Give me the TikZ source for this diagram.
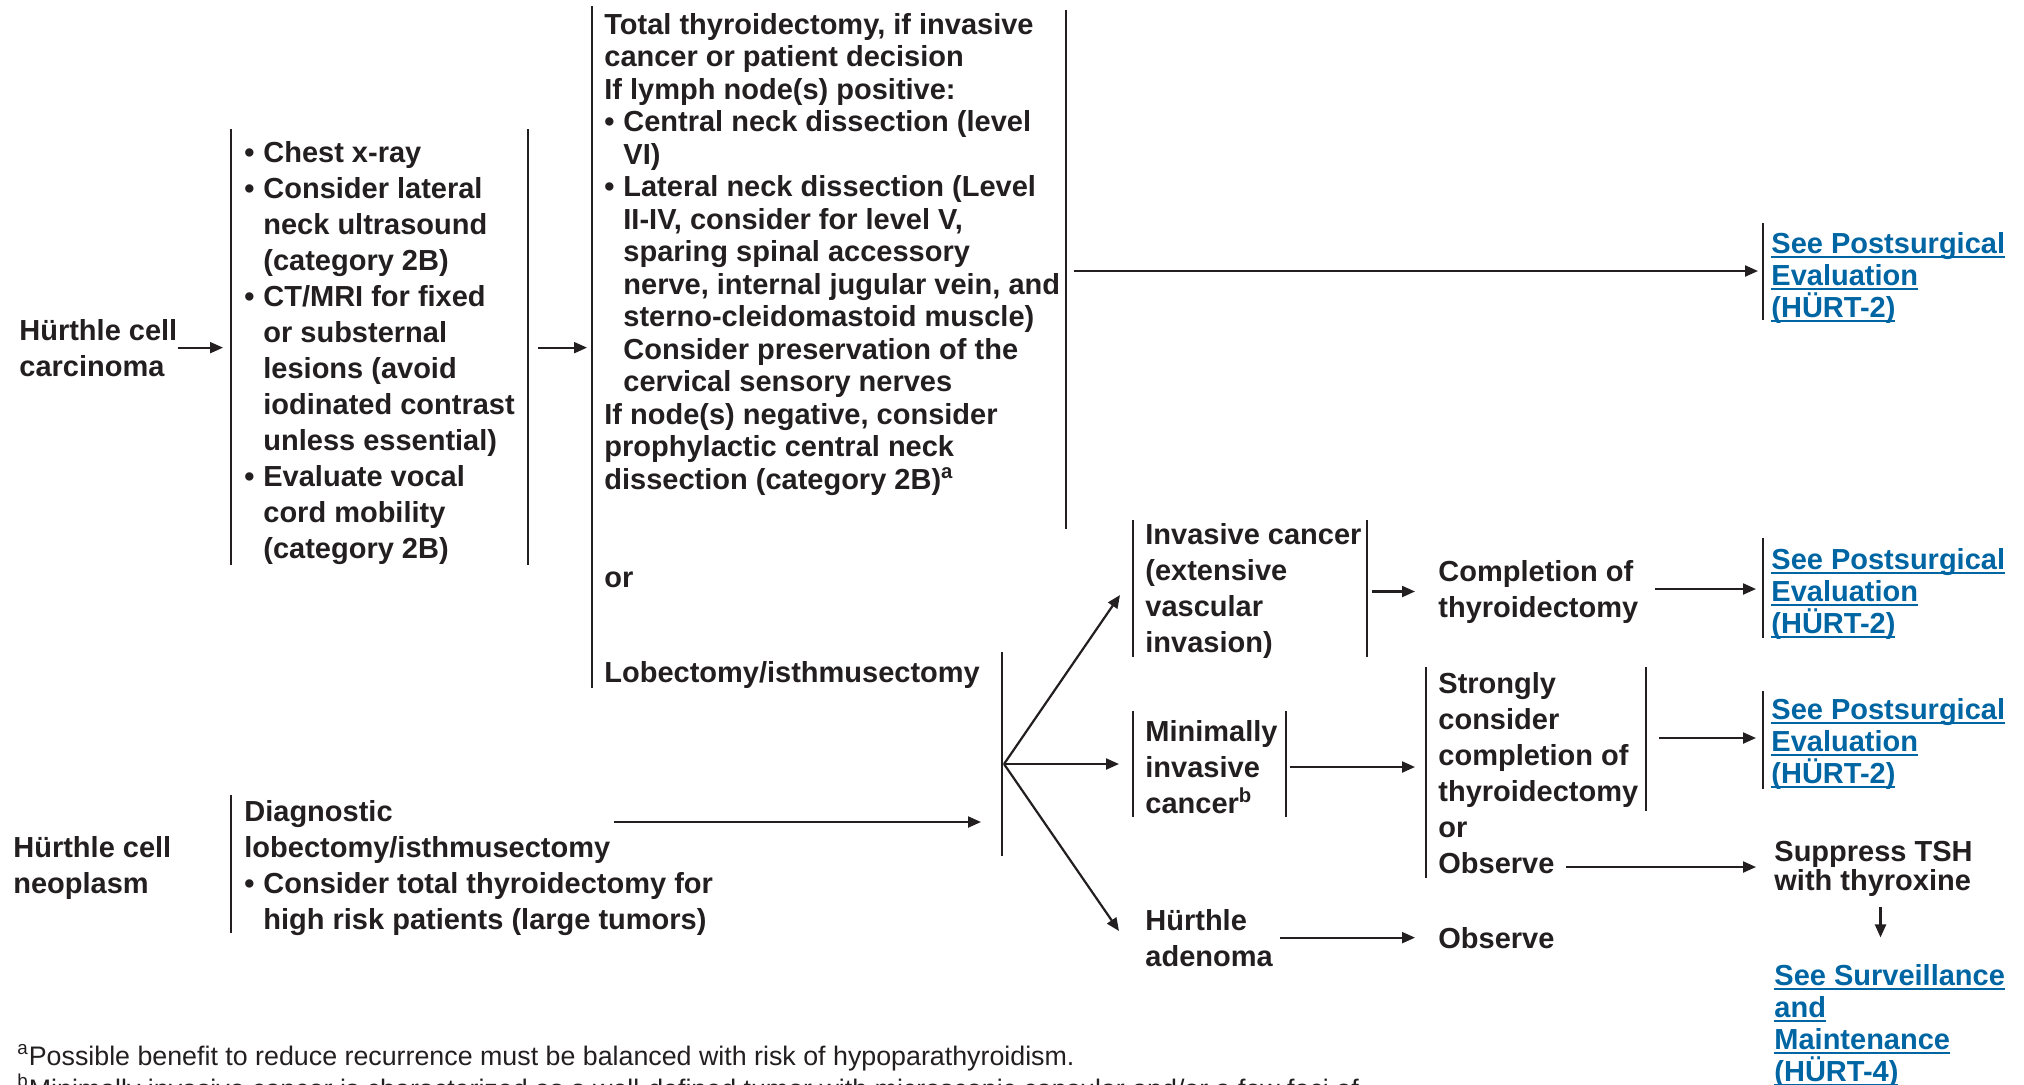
\documentclass[tikz,border=0pt]{standalone}
\usepackage{fontspec}
\setmainfont{Liberation Sans}
\usetikzlibrary{arrows.meta}

\definecolor{ink}{RGB}{35,31,32}
\definecolor{linkblue}{RGB}{0,101,163}
\newcommand{\bltitem}{\makebox[9.5pt][l]{\textbullet}}
\newcommand{\bltcont}{\hspace*{9.5pt}}
\newcommand{\lnkul}[1]{\setbox0\hbox{#1}\rlap{\rule[-2.4pt]{\wd0}{0.8pt}}\box0}

\begin{document}
\begin{tikzpicture}[x=0.5pt, y=-0.5pt,
  txt/.style={anchor=base west, inner sep=0pt, align=left, text=ink,
    font=\bfseries\fontsize{14.5}{18}\selectfont},
  tight/.style={txt, font=\bfseries\fontsize{14.5}{16.25}\selectfont},
  lnk/.style={txt, text=linkblue, font=\bfseries\fontsize{14.5}{16}\selectfont},
  note/.style={anchor=base west, inner sep=0pt, text=ink,
    font=\fontsize{13.4}{16}\selectfont},
  brk/.style={draw=ink, line width=1.25pt},
  arr/.style={draw=ink, line width=1.1pt, -{Triangle[length=6.5pt, width=5.5pt]}}]
  \path[use as bounding box] (0,0) rectangle (2024,1084);
  \clip (0,0) rectangle (2024,1084);

  % bracket lines
  \coordinate (wkL) at (231,129);  \coordinate (wkR) at (528,129);
  \coordinate (sgL) at (592,6);    \coordinate (sgR) at (1066,10);
  \coordinate (p1L) at (1763,223); \coordinate (fkL) at (1002,652);
  \coordinate (dgL) at (231,795);
  \coordinate (ivL) at (1133,520); \coordinate (ivR) at (1367,520);
  \coordinate (p2L) at (1763,538);
  \coordinate (miL) at (1133,711); \coordinate (miR) at (1286,711);
  \coordinate (stL) at (1426,667); \coordinate (stR) at (1646,667);
  \coordinate (p3L) at (1763,691);
  \foreach \c/\h in {wkL/436, wkR/436, sgL/682, sgR/519, p1L/97, fkL/204, dgL/138,
      ivL/137, ivR/137, p2L/100, miL/106, miR/106, stL/211, stR/144, p3L/98} {
    \draw[brk] (\c) -- ++(0,\h);
  }

  % carcinoma (nodes sit on the baseline of their last line)
  \node[txt] (carc) at (19,376) {Hürthle cell\\carcinoma};
  \node[txt] (wkup) at (244,558) {\bltitem Chest x-ray\\ \bltitem Consider lateral\\
    \bltcont neck ultrasound\\ \bltcont (category 2B)\\ \bltitem CT/MRI for fixed\\
    \bltcont or substernal\\ \bltcont lesions (avoid\\ \bltcont iodinated contrast\\
    \bltcont unless essential)\\ \bltitem Evaluate vocal\\ \bltcont cord mobility\\
    \bltcont (category 2B)};
  \node[tight] (surg) at (604,489) {Total thyroidectomy, if invasive\\
    cancer or patient decision\\ If lymph node(s) positive:\\
    \bltitem Central neck dissection (level\\ \bltcont VI)\\
    \bltitem Lateral neck dissection (Level\\ \bltcont II-IV, consider for level V,\\
    \bltcont sparing spinal accessory\\ \bltcont nerve, internal jugular vein, and\\
    \bltcont sterno-cleidomastoid muscle)\\ \bltcont Consider preservation of the\\
    \bltcont cervical sensory nerves\\ If node(s) negative, consider\\
    prophylactic central neck\\ dissection (category 2B)\textsuperscript{a}};
  \node[txt] (orsurg) at (604,587) {or};
  \node[txt] (lobe) at (604,682) {Lobectomy/isthmusectomy};
  \node[lnk] (post1) at (1771,317) {\lnkul{See Postsurgical}\\ \lnkul{Evaluation}\\ \lnkul{(HÜRT-2)}};

  % neoplasm
  \node[txt] (neo) at (13,893) {Hürthle cell\\neoplasm};
  \node[txt] (diag) at (244,929) {Diagnostic\\ lobectomy/isthmusectomy\\
    \bltitem Consider total thyroidectomy for\\ \bltcont high risk patients (large tumors)};

  % histology
  \node[txt] (inv) at (1145,652) {Invasive cancer\\ (extensive\\ vascular\\ invasion)};
  \node[txt] (compl) at (1438,617) {Completion of\\ thyroidectomy};
  \node[lnk] (post2) at (1771,633) {\lnkul{See Postsurgical}\\ \lnkul{Evaluation}\\ \lnkul{(HÜRT-2)}};
  \node[txt] (mininv) at (1145,813) {Minimally\\ invasive\\ cancer\textsuperscript{b}};
  \node[txt] (strong) at (1438,873) {Strongly\\ consider\\ completion of\\ thyroidectomy\\ or\\ Observe};
  \node[lnk] (post3) at (1771,783) {\lnkul{See Postsurgical}\\ \lnkul{Evaluation}\\ \lnkul{(HÜRT-2)}};
  \node[txt, font=\bfseries\fontsize{14.5}{14.5}\selectfont] (tsh) at (1774,890) {Suppress TSH\\ with thyroxine};
  \node[lnk] (surv) at (1774,1081) {\lnkul{See Surveillance}\\ \lnkul{and}\\ \lnkul{Maintenance}\\ \lnkul{(HÜRT-4)}};
  \node[txt] (aden) at (1145,966) {Hürthle\\ adenoma};
  \node[txt] (obs) at (1438,948) {Observe};

  % footnotes
  \node[note] (fna) at (17,1065) {\textsuperscript{a}Possible benefit to reduce recurrence must be balanced with risk of hypoparathyroidism.};
  \node[note] (fnb) at (17,1098) {\textsuperscript{b}Minimally invasive cancer is characterized as a well-defined tumor with microscopic capsular and/or a few foci of};

  % arrows
  \coordinate (p1in) at (1758,271);
  \coordinate (dgout) at (614,822);
  \coordinate (fork) at (1004,764);
  \coordinate (ivin) at (1120,595);
  \coordinate (miin) at (1119,764);
  \coordinate (adin) at (1119,931);
  \coordinate (p2in) at (1756,589);
  \coordinate (stin) at (1415,767);
  \coordinate (p3in) at (1756,738);
  \coordinate (obsout) at (1566,867);
  \draw[arr, shorten >=4pt] (carc.east) -- (carc.east -| wkL);
  \draw[arr, shorten <=5pt, shorten >=2.5pt] (carc.east -| wkR) -- (carc.east -| sgL);
  \draw[arr, shorten <=4pt] (sgR |- p1in) -- (p1in);
  \draw[arr, shorten >=10.5pt] (dgout) -- (dgout -| fkL);
  \foreach \t in {ivin, miin, adin} {
    \draw[arr] (fork) -- (\t);
  }
  \draw[arr, shorten <=2.5pt, shorten >=11.5pt] (compl.west -| ivR) -- (compl.west);
  \draw[arr, shorten <=8pt] (compl.east |- p2in) -- (p2in);
  \draw[arr, shorten <=2pt] (miR |- stin) -- (stin);
  \draw[arr, shorten <=6.5pt] (stR |- p3in) -- (p3in);
  \draw[arr, shorten >=9pt] (obsout) -- (obsout -| tsh.west);
  \draw[arr] ([xshift=3.5pt]tsh.south) ++(0,11) -- ++(0,30);
  \draw[arr, shorten <=3.5pt, shorten >=11.5pt] (obs.west -| aden.east) -- (obs.west);
\end{tikzpicture}
\end{document}
